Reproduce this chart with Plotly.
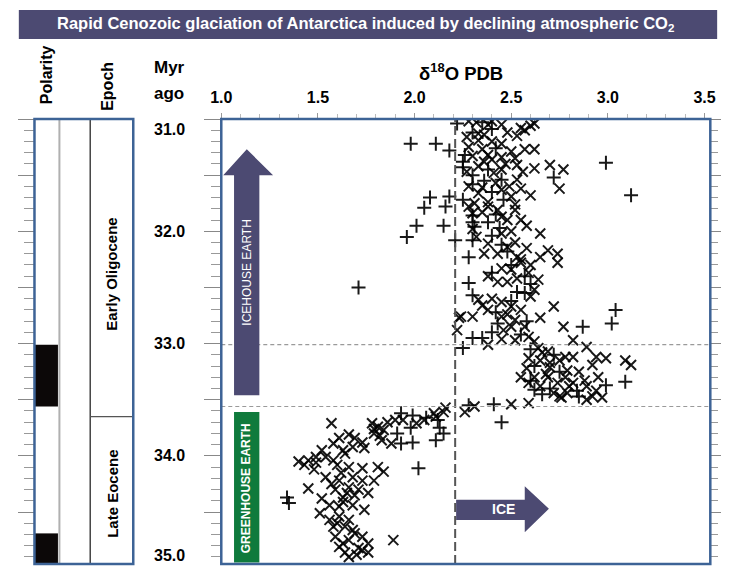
import plotly.graph_objects as go

W, H = 729, 566

# ---- data -------------------------------------------------------------
# benthic foraminifera d18O (per mil PDB) vs. age (Myr ago)
oligo_plus = [
    (2.22, 31.04), (1.98, 31.22), (2.11, 31.22), (2.18, 31.28), (2.26, 31.32), (2.25, 31.38),
    (2.99, 31.39), (2.25, 31.43), (2.72, 31.52), (3.12, 31.68), (2.25, 31.72), (2.18, 31.69),
    (2.08, 31.70), (2.16, 31.78), (2.05, 31.79), (2.30, 31.86), (2.30, 31.92), (2.01, 31.95),
    (2.15, 31.95), (1.96, 32.05), (2.21, 32.08), (2.30, 32.08), (2.28, 32.23), (2.40, 32.37),
    (2.28, 32.46), (2.53, 32.54), (2.30, 32.57), (3.04, 32.70), (3.02, 32.82), (2.43, 32.82),
    (2.87, 32.85), (2.30, 32.95), (2.35, 32.95), (2.25, 33.04), (3.09, 33.34), (2.99, 33.37),
    (2.41, 33.54), (2.45, 33.70), (1.71, 32.50), (2.35, 31.03), (2.40, 31.09), (2.30, 31.12),
    (2.42, 31.26), (2.38, 31.45), (2.36, 31.55), (2.30, 31.58), (2.40, 31.65), (2.46, 31.72),
    (2.42, 31.85), (2.38, 31.92), (2.44, 31.97), (2.40, 32.04), (2.45, 32.12), (2.48, 32.18),
    (2.50, 32.30), (2.57, 32.40), (2.60, 32.47), (2.57, 32.55), (2.50, 32.62), (2.42, 32.72),
    (2.58, 32.80), (2.40, 32.90), (2.55, 32.92), (2.60, 33.05), (2.72, 33.10), (2.62, 33.20),
    (2.75, 33.25), (2.60, 33.33), (2.70, 33.40), (2.84, 33.42), (2.66, 33.45), (2.62, 33.41),
    (2.85, 33.47), (2.28, 33.55), (2.30, 31.50), (2.45, 31.54), (2.31, 31.96),
]
oligo_cross = [
    (2.32, 31.03), (2.38, 31.05), (2.45, 31.05), (2.62, 31.04), (2.57, 31.10), (2.53, 31.15),
    (2.33, 31.13), (2.33, 31.19), (2.45, 31.22), (2.57, 31.27), (2.62, 31.27), (2.38, 31.32),
    (2.45, 31.34), (2.52, 31.35), (2.36, 31.38), (2.70, 31.41), (2.77, 31.45), (2.45, 31.45),
    (2.53, 31.41), (2.62, 31.44), (2.41, 31.48), (2.53, 31.54), (2.75, 31.62), (2.28, 31.60),
    (2.35, 31.61), (2.45, 31.63), (2.50, 31.69), (2.60, 31.68), (2.31, 31.75), (2.38, 31.78),
    (2.43, 31.81), (2.52, 31.81), (2.30, 31.84), (2.45, 31.87), (2.55, 31.90), (2.38, 32.11),
    (2.45, 32.02), (2.48, 32.14), (2.65, 32.02), (2.69, 32.17), (2.74, 32.20), (2.74, 32.28),
    (2.65, 32.23), (2.36, 32.20), (2.43, 32.20), (2.53, 32.23), (2.55, 32.28), (2.59, 32.37),
    (2.50, 32.34), (2.48, 32.45), (2.43, 32.45), (2.62, 32.52), (2.64, 32.43), (2.33, 32.61),
    (2.45, 32.63), (2.38, 32.70), (2.50, 32.67), (2.72, 32.67), (2.24, 32.76), (2.30, 32.76),
    (2.45, 32.76), (2.52, 32.79), (2.65, 32.77), (2.22, 32.88), (2.46, 32.88), (2.57, 32.85),
    (2.77, 32.85), (2.38, 33.01), (2.52, 32.97), (2.59, 32.94), (2.64, 33.04), (2.69, 33.07),
    (2.82, 32.97), (2.89, 33.03), (2.94, 33.12), (2.99, 33.13), (3.09, 33.15), (3.12, 33.19),
    (2.92, 33.19), (2.82, 33.12), (2.75, 33.15), (2.65, 33.15), (2.59, 33.13), (2.70, 33.21),
    (2.79, 33.24), (2.85, 33.25), (2.55, 33.30), (2.62, 33.30), (2.69, 33.30), (2.95, 33.30),
    (2.59, 33.35), (2.65, 33.38), (2.74, 33.35), (2.82, 33.35), (2.89, 33.38), (2.72, 33.44),
    (2.79, 33.44), (2.92, 33.47), (2.97, 33.48), (2.75, 33.47), (2.89, 33.50), (2.31, 33.56),
    (2.50, 33.54), (2.59, 33.53), (2.26, 33.61), (2.28, 31.02), (2.40, 31.02), (2.36, 31.14),
    (2.27, 31.16), (2.48, 31.12), (2.55, 31.08), (2.60, 31.06), (2.40, 31.20), (2.28, 31.25),
    (2.35, 31.27), (2.50, 31.29), (2.30, 31.33), (2.40, 31.36), (2.47, 31.40), (2.33, 31.42),
    (2.56, 31.47), (2.27, 31.47), (2.42, 31.57), (2.49, 31.60), (2.55, 31.62), (2.33, 31.66),
    (2.38, 31.74), (2.52, 31.76), (2.28, 31.78), (2.35, 31.83), (2.48, 31.90), (2.30, 31.98),
    (2.50, 32.00), (2.58, 31.95), (2.32, 32.05), (2.52, 32.10), (2.58, 32.15), (2.55, 32.25),
    (2.60, 32.30), (2.45, 32.33), (2.53, 32.42), (2.38, 32.40), (2.60, 32.58), (2.40, 32.60),
    (2.55, 32.70), (2.35, 32.66), (2.48, 32.74), (2.50, 32.85), (2.62, 32.98), (2.45, 32.96),
    (2.66, 33.08), (2.78, 33.12), (2.70, 33.17), (2.58, 33.22), (2.68, 33.27), (2.78, 33.30),
    (2.76, 33.48), (2.94, 33.42), (2.88, 33.33), (2.80, 33.38), (2.23, 32.77),
]
eocene_plus = [
    (2.06, 33.66), (1.99, 33.64), (1.93, 33.62), (2.13, 33.75), (2.11, 33.86), (1.99, 33.88),
    (1.98, 33.75), (1.91, 33.80), (2.02, 34.11), (1.34, 34.37), (1.35, 34.42), (2.15, 33.80),
    (2.12, 33.68), (1.93, 33.89),
]
eocene_cross = [
    (2.16, 33.57), (2.15, 33.61), (2.10, 33.62), (2.11, 33.65), (1.94, 33.68), (2.01, 33.71),
    (2.05, 33.68), (1.90, 33.68), (1.78, 33.71), (1.81, 33.74), (1.84, 33.77), (1.86, 33.70),
    (1.79, 33.80), (1.83, 33.86), (1.88, 33.89), (1.57, 33.71), (1.66, 33.81), (1.69, 33.84),
    (1.73, 33.88), (1.61, 33.84), (1.58, 33.89), (1.52, 33.95), (1.49, 34.01), (1.54, 34.01),
    (1.63, 33.95), (1.68, 33.92), (1.74, 33.93), (1.40, 34.05), (1.45, 34.04), (1.49, 34.06),
    (1.58, 34.04), (1.66, 34.10), (1.73, 34.11), (1.81, 34.10), (1.84, 34.14), (1.54, 34.19),
    (1.61, 34.22), (1.68, 34.19), (1.73, 34.22), (1.79, 34.22), (1.45, 34.29), (1.59, 34.30),
    (1.66, 34.28), (1.71, 34.30), (1.63, 34.37), (1.69, 34.35), (1.76, 34.33), (1.52, 34.38),
    (1.56, 34.44), (1.61, 34.45), (1.68, 34.44), (1.74, 34.48), (1.51, 34.51), (1.56, 34.57),
    (1.61, 34.54), (1.66, 34.57), (1.58, 34.63), (1.64, 34.63), (1.69, 34.69), (1.73, 34.72),
    (1.59, 34.72), (1.66, 34.75), (1.76, 34.78), (1.61, 34.81), (1.71, 34.82), (1.89, 34.75),
    (1.64, 34.86), (1.73, 34.84), (1.79, 33.76), (1.82, 33.82), (1.64, 33.98), (1.60, 34.08),
    (1.62, 34.15), (1.57, 34.25), (1.65, 34.33), (1.63, 34.41), (1.60, 34.60), (1.68, 34.66),
    (1.63, 34.78), (1.66, 34.90), (1.70, 34.88), (1.76, 34.86), (1.48, 34.12), (1.43, 34.08),
]

age_ticks = [31.0, 32.0, 33.0, 34.0, 35.0]
age_tick_labels = ["31.0", "32.0", "33.0", "34.0", "35.0"]
d18o_ticks = [1.0, 1.5, 2.0, 2.5, 3.0, 3.5]
d18o_tick_labels = ["1.0", "1.5", "2.0", "2.5", "3.0", "3.5"]

# normal polarity chrons (black), ages in Myr
polarity_normal = [(33.01, 33.56), (34.69, 35.0)]
epochs = [("Early Oligocene", 31.0, 33.65, 32.38), ("Late Eocene", 33.65, 35.0, 34.34)]
ice_threshold = 2.21            # d18O value of the ice-volume threshold
step_ages = [33.01, 33.56]      # two-step glaciation boundaries

# ---- geometry ---------------------------------------------------------
X0, X1 = 215, 715           # main panel, pixels
Y0, Y1 = 119, 564
C0, C1 = 24, 125            # polarity / epoch column
PX_PER_MYR = 112.3
AGE_RANGE = [31.0 + (Y1 - Y0) / PX_PER_MYR, 31.0]
X_RANGE = [1.0, 3.53]

px = lambda v: v / W
py = lambda v: 1 - v / H

FONT = "Liberation Sans, Arial, sans-serif"
FRAME = "#3d6396"
PURPLE = "#4c4a72"
GREEN = "#0f7a3c"

fig = go.Figure()


def add_points(pts, symbol):
    fig.add_trace(go.Scatter(
        x=[p[0] for p in pts], y=[p[1] for p in pts], mode="markers",
        marker=dict(symbol=symbol, size=10, color="black",
                    line=dict(color="rgba(0,0,0,0.9)", width=2.0)),
        showlegend=False, hoverinfo="skip"))


add_points(oligo_cross, "x-thin")
add_points(eocene_cross, "x-thin")
add_points(oligo_plus, "cross-thin")
add_points(eocene_plus, "cross-thin")

# empty traces so the extra tick-only axes get drawn
fig.add_trace(go.Scatter(x=[], y=[], yaxis="y2", showlegend=False))
fig.add_trace(go.Scatter(x=[], y=[], yaxis="y3", showlegend=False))

shapes = []
# threshold and step lines
shapes.append(dict(type="line", xref="x", yref="paper", x0=ice_threshold, x1=ice_threshold,
                   y0=py(Y1), y1=py(Y0), line=dict(color="#555555", width=2, dash="9px,4px")))
for a in step_ages:
    shapes.append(dict(type="line", xref="paper", yref="y", x0=px(X0), x1=px(X1), y0=a, y1=a,
                       line=dict(color="#9a9a9a", width=1.2, dash="4px,3px")))

# icehouse arrow (pointing up)
ice_path = ("M 1.066,33.46 L 1.066,31.50 L 1.010,31.50 L 1.132,31.27 "
            "L 1.268,31.50 L 1.197,31.50 L 1.197,33.46 Z")
shapes.append(dict(type="path", xref="x", yref="y", path=ice_path,
                   fillcolor=PURPLE, line=dict(width=0)))
# greenhouse box
shapes.append(dict(type="rect", xref="x", yref="y", x0=1.066, x1=1.197, y0=33.61, y1=34.95,
                   fillcolor=GREEN, line=dict(width=0)))
# ICE arrow (pointing right)
ice_right = ("M 2.215,34.39 L 2.570,34.39 L 2.570,34.27 L 2.695,34.47 "
             "L 2.570,34.68 L 2.570,34.57 L 2.215,34.57 Z")
shapes.append(dict(type="path", xref="x", yref="y", path=ice_right,
                   fillcolor=PURPLE, line=dict(width=0)))

# polarity column
for a0, a1 in polarity_normal:
    shapes.append(dict(type="rect", xref="paper", yref="y", x0=px(C0), x1=px(48), y0=a0, y1=a1,
                       fillcolor="#0c0808", line=dict(width=0)))
shapes.append(dict(type="line", xref="paper", yref="paper", x0=px(49.5), x1=px(49.5),
                   y0=py(Y1), y1=py(Y0), line=dict(color="#b0b0b0", width=2)))
shapes.append(dict(type="line", xref="paper", yref="paper", x0=px(81), x1=px(81),
                   y0=py(Y1), y1=py(Y0), line=dict(color="#444444", width=1.5)))
shapes.append(dict(type="line", xref="paper", yref="y", x0=px(81), x1=px(C1),
                   y0=epochs[1][1], y1=epochs[1][1], line=dict(color="#555555", width=1.2)))

# frames
shapes.append(dict(type="rect", xref="paper", yref="paper", x0=px(X0), x1=px(X1),
                   y0=py(Y1), y1=py(Y0), line=dict(color=FRAME, width=2.5)))
shapes.append(dict(type="rect", xref="paper", yref="paper", x0=px(C0), x1=px(C1),
                   y0=py(Y1), y1=py(Y0), line=dict(color=FRAME, width=2.5)))
# title bar
shapes.append(dict(type="rect", xref="paper", yref="paper", x0=px(8), x1=px(722),
                   y0=py(39), y1=py(10), fillcolor=PURPLE, line=dict(width=0), layer="below"))

ann = []


def label(text, x, y, size, color="black", xref="paper", yref="paper", angle=0, yshift=0, family=FONT):
    ann.append(dict(xref=xref, yref=yref, x=x, y=y, text=text, textangle=angle, showarrow=False,
                    xanchor="center", yanchor="middle", yshift=yshift,
                    font=dict(family=family, size=size, color=color)))


label("<b>Rapid Cenozoic glaciation of Antarctica induced by declining atmospheric CO<sub>2</sub></b>",
      px(362), py(24), 16.5, "white")
label("<b>δ<sup>18</sup>O PDB</b>", px(460), py(72), 18.5)
label("<b>Myr</b>", px(162), py(68), 17)
label("<b>ago</b>", px(162), py(93), 17)
label("<b>Polarity</b>", px(36), py(75), 16, angle=-90)
label("<b>Epoch</b>", px(99), py(86), 16, angle=-90)
for name, a0, a1, mid in epochs:
    label("<b>%s</b>" % name, px(103), mid, 15, yref="y", angle=-90)

# age tick labels: the end labels are nudged inside the panel
for v, lab in zip(age_ticks, age_tick_labels):
    ypix = Y0 + (v - 31.0) * PX_PER_MYR
    if v == age_ticks[0]:
        ypix += 10
    elif v == age_ticks[-1]:
        ypix = 555
    label("<b>%s</b>" % lab, px(162), py(ypix), 16)

label("ICEHOUSE EARTH", 1.132, 32.37, 12, "white", xref="x", yref="y", angle=-90)
label("<b>GREENHOUSE EARTH</b>", 1.132, 34.29, 12, "white", xref="x", yref="y", angle=-90)
label("<b>ICE</b>", 2.46, 34.47, 14, "white", xref="x", yref="y")

tick_y = dict(range=AGE_RANGE, showgrid=False, zeroline=False, showticklabels=False,
              showline=False, domain=[py(Y1), py(Y0)])

fig.update_layout(
    width=W, height=H, margin=dict(l=0, r=0, t=0, b=0),
    paper_bgcolor="white", plot_bgcolor="white",
    xaxis=dict(domain=[px(X0), px(X1)], range=X_RANGE, side="top",
               tickmode="array", tickvals=d18o_ticks, ticktext=d18o_tick_labels,
               ticks="outside", ticklen=5, tickcolor="#999999", tickwidth=1,
               minor=dict(dtick=0.1, ticks="outside", ticklen=4, tickcolor="#bbbbbb"),
               tickfont=dict(family=FONT, size=16, color="black", weight="bold"),
               ticklabelstandoff=4, showgrid=False, zeroline=False, showline=False),
    yaxis=dict(**tick_y, ticks="outside", ticklen=16, tickcolor="#888888", tickwidth=1.2,
               dtick=0.5, tick0=31.0,
               minor=dict(dtick=0.1, ticks="outside", ticklen=9, tickcolor="#999999")),
    yaxis2=dict(**tick_y, overlaying="y", side="right", anchor="free", position=px(X1),
                ticks="outside", ticklen=10, tickcolor="#888888", dtick=0.5, tick0=31.0,
                minor=dict(dtick=0.1, ticks="outside", ticklen=7, tickcolor="#999999")),
    yaxis3=dict(**tick_y, overlaying="y", side="left", anchor="free", position=px(C0),
                ticks="outside", ticklen=16, tickcolor="#888888", tickwidth=1.2, dtick=0.5, tick0=31.0,
                minor=dict(dtick=0.1, ticks="outside", ticklen=10, tickcolor="#999999")),
    shapes=shapes, annotations=ann,
)

fig.write_html("out.html")
